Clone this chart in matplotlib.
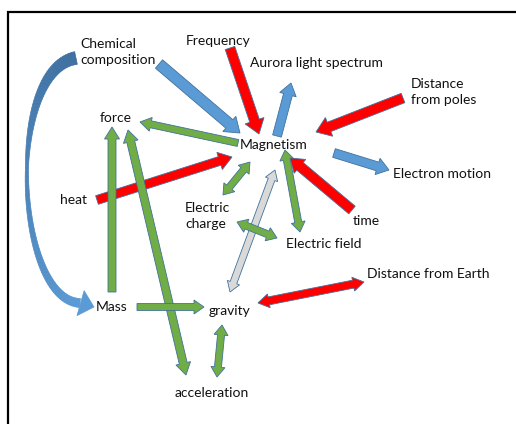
import numpy as np
import matplotlib.pyplot as plt
from matplotlib.patches import Polygon

# node labels: (text, x, y) in pixel coords of the 516x424 canvas, left aligned
labels = ["Chemical\ncomposition", "Frequency", "Aurora light spectrum", "Distance\nfrom poles",
          "force", "Magnetism", "Electron motion", "heat", "Electric\ncharge", "time",
          "Electric field", "Distance from Earth", "Mass", "gravity", "acceleration"]
label_x = [80, 186, 250, 411, 100, 240, 393, 60, 185, 353, 286, 367, 96, 209, 175]
label_y = [52, 41, 63, 92, 118, 145, 174, 200, 216, 221, 244, 274, 307, 311, 393]

# arrows: tail (x0,y0) -> tip (x1,y1), colour, shaft width, head width, head length, double headed
arr_x0 = [159, 230, 277, 403, 334, 238, 97, 250, 275, 285, 352, 237, 112, 128, 137, 222, 258]
arr_y0 = [64, 48, 136, 98, 153, 143, 200, 162, 170, 150, 210, 222, 292, 130, 307, 325, 303]
arr_x1 = [240, 259, 291, 316, 389, 140, 232, 223, 230, 300, 290, 277, 112, 186, 204, 217, 364]
arr_y1 = [133, 134, 83, 132, 170, 122, 157, 195, 292, 232, 158, 238, 127, 375, 307, 377, 282]
arr_col = ["blue", "red", "blue", "red", "blue", "green", "red", "green", "gray", "green",
           "red", "green", "green", "green", "green", "green", "red"]
arr_w = [11, 10, 9, 10, 9, 7, 9, 7, 7, 7, 10, 7, 8, 8, 7, 7, 8]
arr_hw = [20, 20, 17, 20, 17, 14, 18, 14, 13, 14, 18, 14, 15, 15, 14, 14, 14]
arr_hl = [14, 14, 12, 14, 12, 11, 13, 10, 10, 10, 13, 10, 12, 12, 10, 10, 11]
arr_double = [False, False, False, False, False, False, False, True, True, True,
              False, True, False, True, False, True, True]

colors = {"blue": "#5b9bd5", "red": "#ff0000", "green": "#70ad47", "gray": "#d9d9d9"}
edge = "#41719c"


def head_pts(tip, u, n, w, hw, hl):
    b = tip - u * hl
    return [b + n * w / 2, b + n * hw / 2, tip, b - n * hw / 2, b - n * w / 2]


def arrow_poly(p0, p1, w, hw, hl, double):
    p0, p1 = np.array(p0, float), np.array(p1, float)
    u = (p1 - p0) / np.linalg.norm(p1 - p0)
    n = np.array([-u[1], u[0]])
    pts = head_pts(p1, u, n, w, hw, hl)
    if double:
        pts += head_pts(p0, -u, -n, w, hw, hl)
    else:
        pts += [p0 - n * w / 2, p0 + n * w / 2]
    return pts


fig = plt.figure(figsize=(5.16, 4.24), dpi=100)
ax = fig.add_axes([0, 0, 1, 1])
ax.set_xlim(0, 516)
ax.set_ylim(424, 0)
ax.axis("off")

# frame (only top and left visible)
ax.plot([8, 8, 516], [424, 12, 12], color="black", lw=1.6, solid_joinstyle="miter")

# curved arrow from Chemical composition down to Mass
P = np.array([[76, 58], [5, 70], [15, 300], [80, 303]], float)
t = np.linspace(0, 1, 80)
B = ((1 - t) ** 3)[:, None] * P[0] + (3 * (1 - t) ** 2 * t)[:, None] * P[1] \
    + (3 * (1 - t) * t ** 2)[:, None] * P[2] + (t ** 3)[:, None] * P[3]
D = np.gradient(B, axis=0)
D /= np.linalg.norm(D, axis=1)[:, None]
N = np.column_stack([-D[:, 1], D[:, 0]])
wid = np.interp(t, [0, 0.45, 1], [13, 3, 9])
left = B + N * wid[:, None] / 2
right = B - N * wid[:, None] / 2
c_top = np.array([0x3f, 0x6f, 0xa0]) / 255
c_bot = np.array([0x5b, 0x9b, 0xd5]) / 255
for i in range(len(t) - 1):
    c = c_top + (c_bot - c_top) * t[i]
    ax.add_patch(Polygon([left[i], left[i + 1], right[i + 1], right[i]], closed=True,
                         facecolor=c, edgecolor=c, lw=0.5))
tip = np.array([94, 307])
u = tip - B[-1]
u /= np.linalg.norm(u)
n = np.array([-u[1], u[0]])
base = tip - u * 14
ax.add_patch(Polygon([base + n * 13, tip, base - n * 13], closed=True,
                     facecolor=c_bot, edgecolor=c_bot, lw=0.5))

for i in range(len(arr_x0)):
    pts = arrow_poly((arr_x0[i], arr_y0[i]), (arr_x1[i], arr_y1[i]),
                     arr_w[i], arr_hw[i], arr_hl[i], arr_double[i])
    ax.add_patch(Polygon(pts, closed=True, facecolor=colors[arr_col[i]],
                         edgecolor=edge, lw=0.6, joinstyle="miter"))

for txt, x, y in zip(labels, label_x, label_y):
    ax.text(x, y, txt, ha="left", va="center", fontsize=10, family="Lato",
            color="#111111", linespacing=1.4)

fig.savefig("out.png", dpi=100)
